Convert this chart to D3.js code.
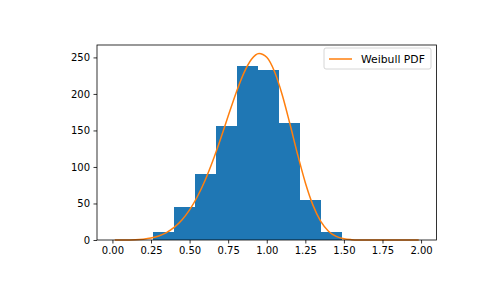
<!DOCTYPE html>
<html>
<head>
<meta charset="utf-8">
<script src="https://cdn.jsdelivr.net/npm/d3@7"></script>
<style>
  body { margin: 0; background: #fff; }
  svg { font-family: "DejaVu Sans", sans-serif; }
</style>
</head>
<body>
<div id="chart"></div>
<script>
// histogram bins (left edges) and counts
const binEdges = [0.264, 0.400, 0.536, 0.671, 0.807, 0.942, 1.078, 1.213, 1.349, 1.485];
const counts = [11, 45, 90, 156, 238, 233, 160, 55, 11];

// Weibull PDF curve
const curveX = [0.02, 0.05, 0.10, 0.15, 0.20, 0.25, 0.30, 0.35, 0.40, 0.45, 0.50, 0.55, 0.60, 0.65,
  0.70, 0.75, 0.80, 0.85, 0.90, 0.95, 1.00, 1.05, 1.10, 1.15, 1.20, 1.25, 1.30, 1.35, 1.40, 1.45,
  1.50, 1.55, 1.60, 1.65, 1.70, 1.80, 1.90, 1.98];
const curveY = [0, 0, 0.1, 0.3, 1.1, 2.7, 5.5, 10.2, 17.2, 27.4, 41.2, 59.2, 81.5, 108.1,
  138.0, 169.7, 200.7, 227.8, 247.2, 255.5, 250.1, 230.7, 198.9, 159.1, 117.1, 78.5, 47.4, 25.5, 12.1, 4.9,
  1.7, 0.5, 0.1, 0, 0, 0, 0, 0];

const xTicks = [0, 0.25, 0.5, 0.75, 1.0, 1.25, 1.5, 1.75, 2.0];
const yTicks = [0, 50, 100, 150, 200, 250];

const width = 485, height = 300;
const margin = { top: 45, right: 48.5, bottom: 60, left: 97 };

const svg = d3.select("#chart").append("svg")
  .attr("width", width)
  .attr("height", height);

const x = d3.scaleLinear()
  .domain([-0.1, 2.1])
  .range([margin.left, width - margin.right]);

const y = d3.scaleLinear()
  .domain([0, 267])
  .range([height - margin.bottom, margin.top]);

const bars = d3.range(counts.length).map(i => ({ x0: binEdges[i], x1: binEdges[i + 1], n: counts[i] }));

svg.append("g")
  .selectAll("rect")
  .data(bars)
  .join("rect")
  .attr("x", d => x(d.x0))
  .attr("width", d => x(d.x1) - x(d.x0))
  .attr("y", d => y(d.n))
  .attr("height", d => y(0) - y(d.n))
  .attr("fill", "#1f77b4")
  .attr("shape-rendering", "crispEdges");

const line = d3.line()
  .x((d, i) => x(curveX[i]))
  .y(d => y(d))
  .curve(d3.curveMonotoneX);

svg.append("path")
  .datum(curveY)
  .attr("d", line)
  .attr("fill", "none")
  .attr("stroke", "#ff7f0e")
  .attr("stroke-width", 1.5)
  .attr("stroke-linejoin", "round")
  .attr("stroke-linecap", "square");

// axes
const xAxis = svg.append("g")
  .attr("transform", `translate(0,${height - margin.bottom})`)
  .call(d3.axisBottom(x).tickValues(xTicks).tickFormat(d3.format(".2f")).tickSizeOuter(0).tickSize(3.5).tickPadding(3.5));

const yAxis = svg.append("g")
  .attr("transform", `translate(${margin.left},0)`)
  .call(d3.axisLeft(y).tickValues(yTicks).tickFormat(d3.format("d")).tickSizeOuter(0).tickSize(3.5).tickPadding(3.5));

[xAxis, yAxis].forEach(g => {
  g.select(".domain").remove();
  g.selectAll(".tick line").attr("stroke", "#000").attr("stroke-width", 0.8);
  g.selectAll(".tick text")
    .attr("fill", "#000")
    .style("font-size", "10px")
    .style("font-family", "DejaVu Sans");
});

// spines
svg.append("rect")
  .attr("x", margin.left)
  .attr("y", margin.top)
  .attr("width", width - margin.left - margin.right)
  .attr("height", height - margin.top - margin.bottom)
  .attr("fill", "none")
  .attr("stroke", "#000")
  .attr("stroke-width", 0.8);

// legend
const legend = svg.append("g").attr("transform", "translate(324,48)");
legend.append("rect")
  .attr("width", 107)
  .attr("height", 21)
  .attr("rx", 2)
  .attr("fill", "#fff")
  .attr("fill-opacity", 0.8)
  .attr("stroke", "#cccccc")
  .attr("stroke-width", 0.8);
legend.append("line")
  .attr("x1", 5).attr("x2", 28)
  .attr("y1", 11).attr("y2", 11)
  .attr("stroke", "#ff7f0e")
  .attr("stroke-width", 1.5);
legend.append("text")
  .attr("x", 37)
  .attr("y", 11)
  .attr("dy", "0.35em")
  .style("font-size", "10.8px")
  .attr("fill", "#000")
  .text("Weibull PDF");
</script>
</body>
</html>
